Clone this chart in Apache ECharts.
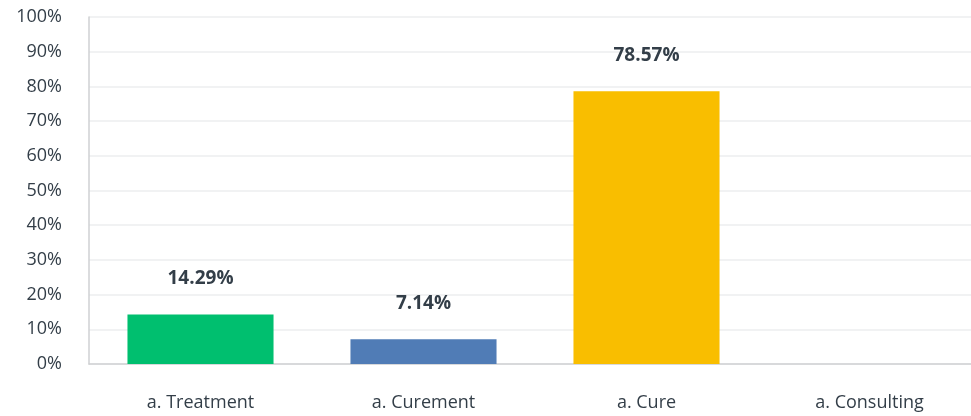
<!DOCTYPE html>
<html><head><meta charset="utf-8">
<script src="https://cdn.jsdelivr.net/npm/echarts@6/dist/echarts.min.js"></script>
<style>html,body{margin:0;padding:0;background:#fff}#c{width:971px;height:416px}</style>
</head><body><div id="c"></div>
<script>
const categories = ['a. Treatment', 'a. Curement', 'a. Cure', 'a. Consulting'];
const values = [14.29, 7.14, 78.57, 0];
const colors = ['#00BF6F', '#507CB6', '#F9BE00', '#D25F90'];
const yTicks = [0, 10, 20, 30, 40, 50, 60, 70, 80, 90, 100];

const FONT = 'Open Sans';
const chart = echarts.init(document.getElementById('c'));
chart.setOption({
  animation: false,
  grid: { left: 89, right: -10, top: 17, bottom: 52, containLabel: false, outerBoundsMode: 'none' },
  xAxis: {
    type: 'category', data: categories,
    axisLine: { lineStyle: { color: '#cfd1d3', width: 1.5 } },
    axisTick: { show: false },
    axisLabel: { margin: 30, fontSize: 18, color: '#333e48', fontFamily: FONT }
  },
  yAxis: {
    type: 'value', min: yTicks[0], max: yTicks[yTicks.length - 1], interval: 10,
    axisLine: { show: true, lineStyle: { color: '#cfd1d3', width: 1.5 } },
    axisTick: { show: false },
    splitLine: { lineStyle: { color: '#eceeef', width: 1.5 } },
    axisLabel: { margin: 27, fontSize: 18, color: '#333e48', fontFamily: FONT, formatter: '{value}%' }
  },
  series: [{
    type: 'bar', barWidth: '65.5%',
    data: values.map((v, i) => ({ value: v, itemStyle: { color: colors[i] } })),
    label: {
      show: true, position: 'top', distance: 26,
      fontSize: 19, fontWeight: 'bold', color: '#333e48', fontFamily: FONT,
      formatter: p => p.value > 0 ? p.value.toFixed(2) + '%' : ''
    }
  }]
});
</script></body></html>
